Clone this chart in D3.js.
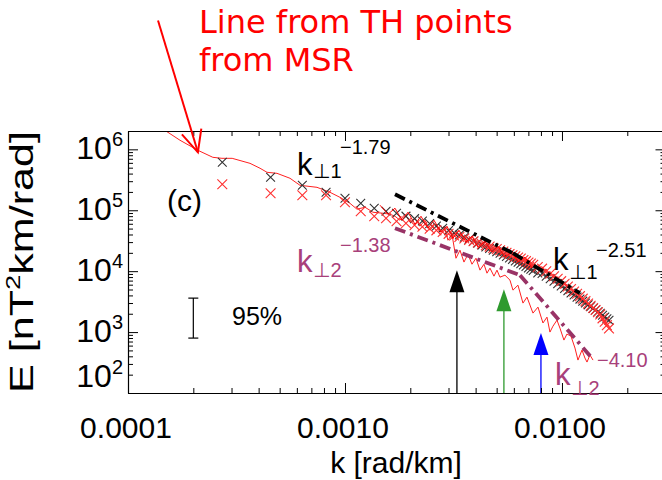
<!DOCTYPE html>
<html><head><meta charset="utf-8">
<script src="https://cdn.jsdelivr.net/npm/d3@7"></script>
<style>
body{margin:0;background:#fff}
svg{display:block}
text{font-family:"Liberation Sans",Arial,"DejaVu Sans",sans-serif}
</style>
</head><body>
<svg id="chart" width="662" height="480"></svg>
<script>
// ---------------- data ----------------
const xDomain = [1e-4, 0.03];
const yDomain = [100, 2e6];
const xTickValues = [1e-4, 1e-3, 1e-2];
const xTickLabels = ["0.0001", "0.0010", "0.0100"];
const yTickValues = [1e2, 1e3, 1e4, 1e5, 1e6];
const yTickExponents = ["2", "3", "4", "5", "6"];

// wavenumbers of the X-marked spectra (rad/km)
const kGrid = [2.72e-4,4.54e-4,6.36e-4,8.18e-4,1.00e-3,1.182e-3,1.364e-3,1.546e-3,1.728e-3,1.91e-3,
  2.092e-3,2.274e-3,2.456e-3,2.638e-3,2.82e-3,3.002e-3,3.184e-3,3.366e-3,3.548e-3,3.73e-3,
  3.912e-3,4.094e-3,4.276e-3,4.458e-3,4.64e-3,4.822e-3,5.004e-3,5.186e-3,5.368e-3,5.55e-3,
  5.732e-3,5.914e-3,6.096e-3,6.278e-3,6.46e-3,6.642e-3,6.824e-3,7.006e-3,7.188e-3,7.37e-3,
  7.734e-3,8.098e-3,8.462e-3,8.826e-3,9.19e-3,9.554e-3,9.918e-3,1.0282e-2,1.0646e-2,1.101e-2,
  1.1374e-2,1.1738e-2,1.2102e-2,1.2466e-2,1.283e-2,1.3194e-2,1.3558e-2,1.3922e-2,1.4286e-2,1.465e-2,
  1.5014e-2,1.5378e-2,1.5742e-2,1.6106e-2,1.647e-2];
// black crosses (k_perp1 spectrum)
const eBlack = [6.12e5,3.48e5,2.57e5,1.97e5,1.57e5,1.30e5,1.08e5,9.64e4,8.94e4,8.00e4,
  7.28e4,6.65e4,6.03e4,5.53e4,5.05e4,4.63e4,4.25e4,3.92e4,3.61e4,3.33e4,
  3.09e4,2.88e4,2.68e4,2.50e4,2.36e4,2.21e4,2.08e4,1.97e4,1.85e4,1.74e4,
  1.65e4,1.56e4,1.47e4,1.40e4,1.33e4,1.26e4,1.19e4,1.13e4,1.08e4,1.03e4,
  9.34e3,9.14e3,8.25e3,7.50e3,6.83e3,6.24e3,5.72e3,5.22e3,4.79e3,4.39e3,
  4.06e3,3.75e3,3.48e3,3.22e3,3.00e3,2.80e3,2.62e3,2.45e3,2.30e3,2.16e3,
  2.03e3,1.89e3,1.77e3,1.66e3,1.56e3];
// red crosses (k_perp2 spectrum)
const eRed = [2.67e5,1.90e5,1.76e5,1.76e5,1.35e5,9.64e4,7.98e4,7.40e4,6.61e4,6.10e4,
  5.70e4,5.35e4,4.99e4,4.68e4,4.40e4,4.10e4,3.85e4,3.64e4,3.44e4,3.26e4,
  3.09e4,2.95e4,2.80e4,2.66e4,2.53e4,2.41e4,2.30e4,2.21e4,2.10e4,2.00e4,
  1.91e4,1.83e4,1.75e4,1.68e4,1.61e4,1.53e4,1.46e4,1.39e4,1.33e4,1.27e4,
  1.17e4,1.10e4,9.96e3,9.06e3,8.25e3,7.53e3,6.86e3,6.19e3,5.61e3,5.09e3,
  4.65e3,4.25e3,3.89e3,3.54e3,3.22e3,2.95e3,2.71e3,2.48e3,2.30e3,2.11e3,
  1.94e3,1.68e3,1.48e3,1.30e3,1.15e3];

// red line from TH points (from MSR)
const kTH = [1.48e-4,1.736e-4,2.10e-4,2.46e-4,2.71e-4,3.02e-4,3.65e-4,4.06e-4,4.37e-4,4.86e-4,
  5.58e-4,6.20e-4,7.43e-4,8.53e-4,9.48e-4,1.054e-3,1.136e-3,1.237e-3,1.346e-3,1.497e-3,1.612e-3,
  1.70e-3,1.793e-3,1.890e-3,1.993e-3,2.102e-3,2.216e-3,2.337e-3,2.464e-3,2.598e-3,2.740e-3,
  2.859e-3,2.983e-3,3.112e-3,3.247e-3,3.388e-3,3.535e-3,3.688e-3,3.848e-3,4.015e-3,4.189e-3,
  4.371e-3,4.512e-3,4.658e-3,4.860e-3,5.017e-3,5.179e-3,5.461e-3,5.759e-3,5.945e-3,6.269e-3,
  6.611e-3,6.898e-3,7.352e-3,7.752e-3,8.175e-3,8.529e-3,8.804e-3,9.088e-3,9.484e-3,9.790e-3,
  1.021e-2,1.054e-2,1.100e-2,1.148e-2,1.185e-2,1.237e-2,1.276e-2,1.304e-2,1.346e-2,1.390e-2];
const eTH = [2.05e6,1.41e6,9.64e5,7.40e5,7.12e5,7.12e5,5.89e5,4.89e5,4.20e5,4.04e5,
  3.35e5,2.57e5,2.38e5,1.97e5,1.63e5,1.30e5,1.04e5,1.12e5,9.27e4,8.93e4,8.60e4,
  7.97e4,6.86e4,8.60e4,6.36e4,7.39e4,5.47e4,6.86e4,4.70e4,5.89e4,4.36e4,
  5.47e4,3.22e4,4.04e4,1.63e4,2.21e4,1.41e4,1.90e4,1.30e4,1.63e4,1.04e4,
  1.30e4,9.27e3,1.12e4,8.28e3,1.04e4,7.97e3,8.60e3,7.12e3,4.88e3,5.89e3,
  2.99e3,3.75e3,2.05e3,2.57e3,1.41e3,1.76e3,1.00e3,1.25e3,1.57e3,1.16e3,
  739,927,860,547,347,507,375,322,420,347];
// second thin red line running inside the cross band
const kBand = [1.450e-3,1.579e-3,1.70e-3,1.831e-3,1.951e-3,2.102e-3,2.240e-3,2.413e-3,2.571e-3,2.770e-3,
  2.951e-3,3.146e-3,3.352e-3,3.612e-3,3.848e-3,4.101e-3,4.418e-3,4.757e-3,5.071e-3,5.461e-3,
  5.884e-3,6.269e-3,6.753e-3,7.276e-3];
const eBand = [1.21e5,8.60e4,1.08e5,6.86e4,9.27e4,5.89e4,7.97e4,5.07e4,6.86e4,4.36e4,
  5.47e4,3.48e4,4.70e4,2.99e4,3.75e4,2.47e4,3.10e4,2.05e4,2.57e4,1.70e4,
  2.13e4,1.41e4,1.70e4,1.12e4];

// power-law fit segments (endpoints)
const fitK = [[1.70e-3,5.945e-3],[5.945e-3,1.210e-2],[1.70e-3,6.405e-3],[6.405e-3,1.375e-2]];
const fitE = [[1.83e5,1.97e4],[1.97e4,4.36e3],[5.07e4,8.60e3],[8.60e3,375]];
const fitGroup = ["perp1","perp1","perp2","perp2"];

// vertical arrows marking characteristic wavenumbers
const arrowK = [3.28e-3, 5.40e-3, 8.00e-3];
const arrowE = [1.04e4, 5.07e3, 963];
const arrowColor = ["#000000", "#2e9a2e", "#0000ff"];

// 95% confidence bar
const errK = 2.0e-4;
const errE = [797, 3610];

// annotation arrow (tail, tip) in data units
const noteK = [1.375e-4, 2.10e-4];
const noteE = [1.30e8, 8.93e5];

// ---------------- drawing ----------------
const W = 662, H = 480;
const plot = {left: 128, top: 131, right: 665.5, bottom: 393};
const svg = d3.select("#chart");
svg.append("rect").attr("width", W).attr("height", H).attr("fill", "#fff");

const x = d3.scaleLog().domain(xDomain).range([plot.left, plot.right]);
const y = d3.scaleLog().domain(yDomain).range([plot.bottom, plot.top]);
const isMajor = v => Math.abs(Math.log10(v) - Math.round(Math.log10(v))) < 1e-9;

svg.append("defs").append("clipPath").attr("id", "clip")
  .append("rect").attr("x", plot.left).attr("y", plot.top)
  .attr("width", plot.right - plot.left).attr("height", plot.bottom - plot.top);

const data = svg.append("g").attr("clip-path", "url(#clip)");
const line = d3.line().x(d => x(d[0])).y(d => y(d[1]));

// TH line
data.append("path").datum(kTH.map((k, i) => [k, eTH[i]]))
  .attr("d", line).attr("fill", "none").attr("stroke", "#ff2020").attr("stroke-width", 1);

// black crosses
const cross = s => `M${-s},${-s}L${s},${s}M${-s},${s}L${s},${-s}`;
data.append("g").selectAll("path").data(kGrid.map((k, i) => [k, eBlack[i]])).join("path")
  .attr("transform", d => `translate(${x(d[0])},${y(d[1])})`)
  .attr("d", cross(4.4)).attr("fill", "none").attr("stroke", "#333").attr("stroke-width", 1.1);
// red crosses
data.append("g").selectAll("path").data(kGrid.map((k, i) => [k, eRed[i]])).join("path")
  .attr("transform", d => `translate(${x(d[0])},${y(d[1])})`)
  .attr("d", cross(4.9)).attr("fill", "none").attr("stroke", "#ff3030").attr("stroke-width", 1.1);
// band line
data.append("path").datum(kBand.map((k, i) => [k, eBand[i]]))
  .attr("d", line).attr("fill", "none").attr("stroke", "#ff0000").attr("stroke-width", 1);

// fit lines
const fitColor = {perp1: "#000000", perp2: "#993366"};
fitK.forEach((ks, i) => {
  data.append("path").datum([[ks[0], fitE[i][0]], [ks[1], fitE[i][1]]])
    .attr("d", line).attr("fill", "none").attr("stroke", fitColor[fitGroup[i]])
    .attr("stroke-width", 3.8).attr("stroke-dasharray", "11,5,3,5");
});

// arrows
arrowK.forEach((k, i) => {
  const ax = x(k), tip = y(arrowE[i]);
  data.append("line").attr("x1", ax).attr("x2", ax).attr("y1", plot.bottom).attr("y2", tip + 20)
    .attr("stroke", arrowColor[i]).attr("stroke-width", 1.3);
  data.append("path").attr("d", `M${ax},${tip}L${ax - 7.5},${tip + 22}L${ax + 7.5},${tip + 22}Z`)
    .attr("fill", arrowColor[i]);
});

// error bar
{
  const ex = x(errK), y1 = y(errE[0]), y2 = y(errE[1]);
  const g = svg.append("g").attr("stroke", "#000").attr("stroke-width", 1.2);
  g.append("line").attr("x1", ex).attr("x2", ex).attr("y1", y1).attr("y2", y2);
  g.append("line").attr("x1", ex - 5).attr("x2", ex + 5).attr("y1", y1).attr("y2", y1);
  g.append("line").attr("x1", ex - 5).attr("x2", ex + 5).attr("y1", y2).attr("y2", y2);
}

// axes
function styleAxis(g, sign, horizontal) {
  g.selectAll(".tick line").attr("stroke", "#000")
    .attr(horizontal ? "y2" : "x2", d => sign * (isMajor(d) ? 10 : 5));
  g.select(".domain").attr("stroke", "#000").attr("stroke-width", 1.2);
  g.selectAll(".tick text").remove();
}
const xt = x.ticks(), yt = y.ticks();
styleAxis(svg.append("g").attr("transform", `translate(0,${plot.bottom})`)
  .call(d3.axisBottom(x).tickValues(xt).tickSizeOuter(0)), -1, true);
styleAxis(svg.append("g").attr("transform", `translate(0,${plot.top})`)
  .call(d3.axisTop(x).tickValues(xt).tickSizeOuter(0)), 1, true);
styleAxis(svg.append("g").attr("transform", `translate(${plot.left},0)`)
  .call(d3.axisLeft(y).tickValues(yt).tickSizeOuter(0)), 1, false);
styleAxis(svg.append("g").attr("transform", `translate(${plot.right},0)`)
  .call(d3.axisRight(y).tickValues(yt).tickSizeOuter(0)), -1, false);

// x tick labels
xTickValues.forEach((v, i) => {
  svg.append("text").attr("x", x(v) - 2).attr("y", 438).attr("text-anchor", "middle")
    .attr("font-size", 30).attr("fill", "#000").text(xTickLabels[i]);
});
// y tick labels
yTickValues.forEach((v, i) => {
  const base = y(v) + 10 - (v === yDomain[0] ? 16 : 0);
  const t = svg.append("text").attr("x", 123).attr("y", base).attr("text-anchor", "end").attr("fill", "#000");
  t.append("tspan").attr("font-size", 32).text("10");
  t.append("tspan").attr("font-size", 20).attr("dy", -13).text(yTickExponents[i]);
});
// axis titles
svg.append("text").attr("x", 396).attr("y", 473).attr("text-anchor", "middle")
  .attr("font-size", 30).text("k [rad/km]");
{
  const t = svg.append("text").attr("transform", "translate(33,262) rotate(-90)")
    .attr("text-anchor", "middle").attr("font-size", 33)
    .attr("textLength", 262).attr("lengthAdjust", "spacingAndGlyphs");
  t.append("tspan").text("E [nT");
  t.append("tspan").attr("font-size", 21).attr("dy", -13).text("2");
  t.append("tspan").attr("dy", 13).text("km/rad]");
}

// panel label and annotations
svg.append("text").attr("x", 167).attr("y", 211).attr("font-size", 30).text("(c)");
svg.append("text").attr("x", 232).attr("y", 325).attr("font-size", 25).text("95%");

function kLabel(kx, kb, sub, subB, sup, supX, supB, color) {
  svg.append("text").attr("x", kx).attr("y", kb).attr("font-size", 31).attr("fill", color).text("k");
  svg.append("text").attr("x", kx + 16).attr("y", subB).attr("font-size", 20).attr("fill", color).text(sub);
  svg.append("text").attr("x", supX).attr("y", supB).attr("font-size", 20).attr("fill", color).text(sup);
}
const magenta = "#a8407a";
kLabel(297, 175, "⊥1", 178, "−1.79", 340, 154, "#000");
kLabel(297, 272, "⊥2", 277, "−1.38", 340, 252, magenta);
kLabel(553, 270, "⊥1", 279, "−2.51", 596, 257, "#000");
kLabel(555, 385, "⊥2", 395, "−4.10", 597, 367, magenta);

// red note
const noteFont = "'DejaVu Sans', Verdana, sans-serif";
svg.append("text").attr("x", 199).attr("y", 33).attr("font-size", 32).attr("fill", "#ff0000")
  .style("font-family", noteFont).text("Line from TH points");
svg.append("text").attr("x", 199).attr("y", 71).attr("font-size", 32).attr("fill", "#ff0000")
  .style("font-family", noteFont).text("from MSR");
{
  const x0 = x(noteK[0]), y0 = y(noteE[0]), x1 = x(noteK[1]), y1 = y(noteE[1]);
  const ang = Math.atan2(y0 - y1, x0 - x1), L = 24, a = 25 * Math.PI / 180;
  const g = svg.append("g").attr("stroke", "#ff0000").attr("stroke-width", 2).attr("fill", "none");
  g.append("line").attr("x1", x0).attr("y1", y0).attr("x2", x1).attr("y2", y1);
  g.append("path").attr("d",
    `M${x1 + L * Math.cos(ang - a)},${y1 + L * Math.sin(ang - a)}L${x1},${y1}L${x1 + L * Math.cos(ang + a)},${y1 + L * Math.sin(ang + a)}`);
}
</script>
</body></html>
